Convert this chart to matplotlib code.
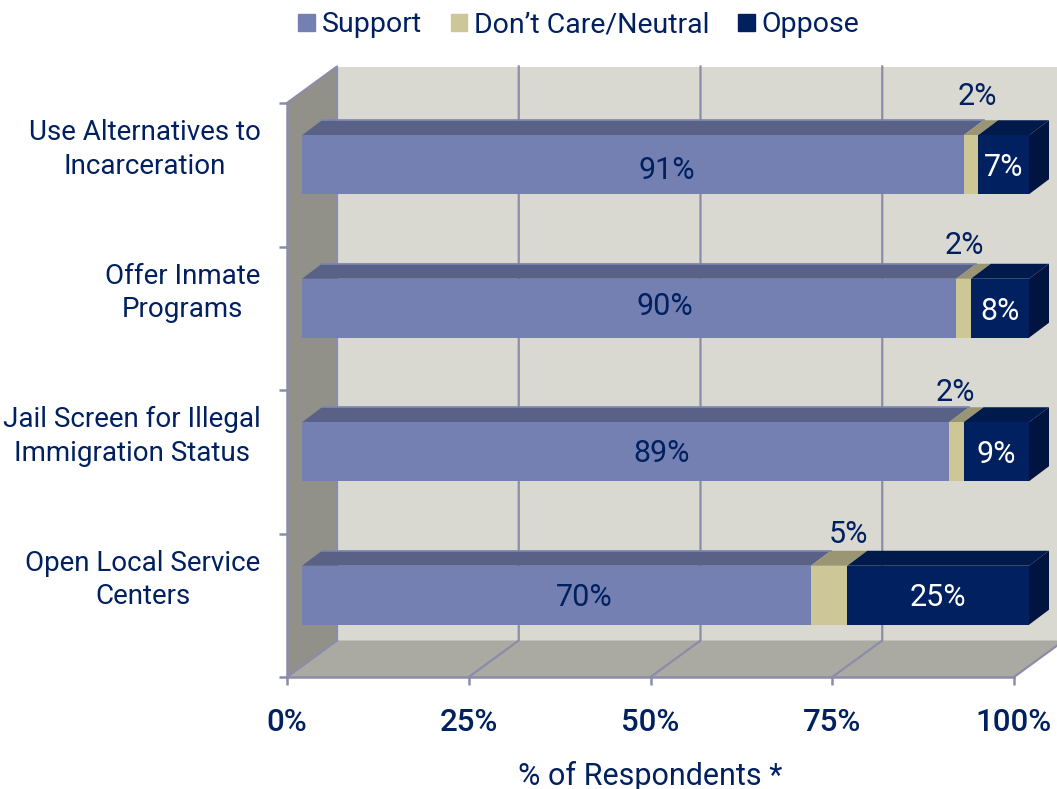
import matplotlib
matplotlib.use('Agg')
import matplotlib.pyplot as plt
from matplotlib.patches import Polygon, Patch

plt.rcParams['font.family'] = ['Roboto', 'DejaVu Sans']

categories = ['Use Alternatives to\nIncarceration', 'Offer Inmate\nPrograms',
              'Jail Screen for Illegal\nImmigration Status', 'Open Local Service\nCenters']
support = [91, 90, 89, 70]
neutral = [2, 2, 2, 5]
oppose = [7, 8, 9, 25]
series_names = ['Support', 'Don\u2019t Care/Neutral', 'Oppose']
x_ticks = [0, 25, 50, 75, 100]

W, H = 1057, 789
NAVY = '#00205f'
LINE = '#8b8da8'
front_cols = ['#7480b2', '#cdc797', NAVY]
top_cols = ['#5a6187', '#9a9673', '#001a4c']
SIDE = '#00143f'

fig = plt.figure(figsize=(W / 100, H / 100), dpi=100, facecolor='white')
# plot box in pixels: x 287-1014, y 103-677
ax = fig.add_axes([287 / W, 1 - 677 / H, 727 / W, 574 / H])
ax.set_xlim(0, 100)
ax.set_ylim(0, 4)
ax.patch.set_visible(False)

px = 100 / 727   # one pixel in x data units
py = 4 / 574     # one pixel in y data units
wall_dx, wall_dy = 50 * px, 36.5 * py    # depth of the box
bar_dx, bar_dy = 20 * px, 15 * py        # depth of the bars
off_x, off_y = 15 * px, 10 * py          # bars sit inside the box
bar_h = 59 * py
xmax = 100 + wall_dx


def poly(points, color, z, edge=None, lw=0):
    ax.add_patch(Polygon(points, closed=True, facecolor=color, edgecolor=edge or color,
                         linewidth=lw, clip_on=False, zorder=z))


# box: back wall, side wall, floor
poly([(wall_dx, wall_dy), (xmax, wall_dy), (xmax, 4 + wall_dy), (wall_dx, 4 + wall_dy)], '#d9d9d1', 1)
poly([(0, 0), (wall_dx, wall_dy), (wall_dx, 4 + wall_dy), (0, 4)], '#91918a', 1.1)
poly([(0, 0), (100, 0), (xmax, wall_dy), (wall_dx, wall_dy)], '#aaaaa3', 1.1)

for t in x_ticks[1:-1]:
    ax.plot([t, t + wall_dx, t + wall_dx], [0, wall_dy, 4 + wall_dy], color=LINE, lw=1.6,
            clip_on=False, zorder=1.5)
ax.plot([0, wall_dx, wall_dx], [4, 4 + wall_dy, wall_dy], color=LINE, lw=1.6, clip_on=False, zorder=1.5)
ax.plot([0, wall_dx], [0, wall_dy], color=LINE, lw=1.6, clip_on=False, zorder=1.5)
ax.plot([100, xmax], [0, wall_dy], color=LINE, lw=1.6, clip_on=False, zorder=1.5)

# small shifts of the data labels, in pixels (chart placed them unevenly)
support_nudge = [(34, -6), (36, 2), (36, -2), (28, -2)]
neutral_nudge = [(7, 68), (1, 63), (-1, 59), (19, 61)]
oppose_nudge = [(0, -3), (0, -3), (0, -3), (0, -2)]

for i, name in enumerate(categories):
    pos = 3 - i
    y0 = pos + 0.5 - bar_h / 2 + off_y
    y1 = y0 + bar_h
    left = 0
    values = [support[i], neutral[i], oppose[i]]
    for j, v in enumerate(values):
        a = left + off_x
        b = a + v
        poly([(a, y1), (a + bar_dx, y1 + bar_dy), (b + bar_dx, y1 + bar_dy), (b, y1)], top_cols[j], 2 + j * 0.1)
        poly([(a, y0), (b, y0), (b, y1), (a, y1)], front_cols[j], 3 + j * 0.1)
        left += v
    end = left + off_x
    poly([(end, y0), (end + bar_dx, y0 + bar_dy), (end + bar_dx, y1 + bar_dy), (end, y1)], SIDE, 2.5)
    ax.plot([off_x + bar_dx, off_x + support[i] + bar_dx], [y1 + bar_dy] * 2, color='#7c86b4', lw=1.2,
            clip_on=False, zorder=2.6)

    mid = (y0 + y1) / 2
    nudges = [support_nudge[i], neutral_nudge[i], oppose_nudge[i]]
    label_cols = [NAVY, NAVY, 'white']
    left = 0
    for j, v in enumerate(values):
        ax.annotate('%d%%' % v, (left + v / 2 + off_x, mid), xytext=nudges[j], textcoords='offset pixels',
                    ha='center', va='center', fontsize=22, color=label_cols[j],
                    annotation_clip=False, zorder=5)
        left += v

# axes
for s in ['top', 'right']:
    ax.spines[s].set_visible(False)
for s in ['left', 'bottom']:
    ax.spines[s].set_color(LINE)
    ax.spines[s].set_linewidth(1.8)
    ax.spines[s].set_zorder(4)
ax.set_xticks(x_ticks)
ax.set_xticklabels(['%d%%' % t for t in x_ticks], fontweight='medium')
ax.tick_params(axis='x', length=5.5, width=1.8, color=LINE, labelcolor=NAVY, labelsize=22.5, pad=17)
ax.set_yticks(range(5))
ax.set_yticklabels([])
ax.tick_params(axis='y', which='major', length=5.5, width=1.8, color=LINE)

# category names sit above the middle of each band
ax.set_yticks([3 - i + 0.5 + 31.5 * py for i in range(4)], minor=True)
ax.set_yticklabels(categories, minor=True, multialignment='center', linespacing=1.3)
ax.tick_params(axis='y', which='minor', length=0, labelcolor=NAVY, labelsize=20, pad=19)

fig.text(650 / W, 1 - 776 / H, '% of Respondents *', ha='center', va='center', fontsize=22, color=NAVY)

handles = [Patch(facecolor=c, edgecolor=c, label=n) for c, n in zip(front_cols, series_names)]
fig.legend(handles=handles, loc='center', bbox_to_anchor=(579 / W, 1 - 25 / H), ncol=3, frameon=False,
           fontsize=20.5, labelcolor=NAVY, handlelength=0.58, handleheight=0.58, handletextpad=0.25,
           columnspacing=1.0, borderpad=0, borderaxespad=0)

fig.savefig('out.png', dpi=100)
